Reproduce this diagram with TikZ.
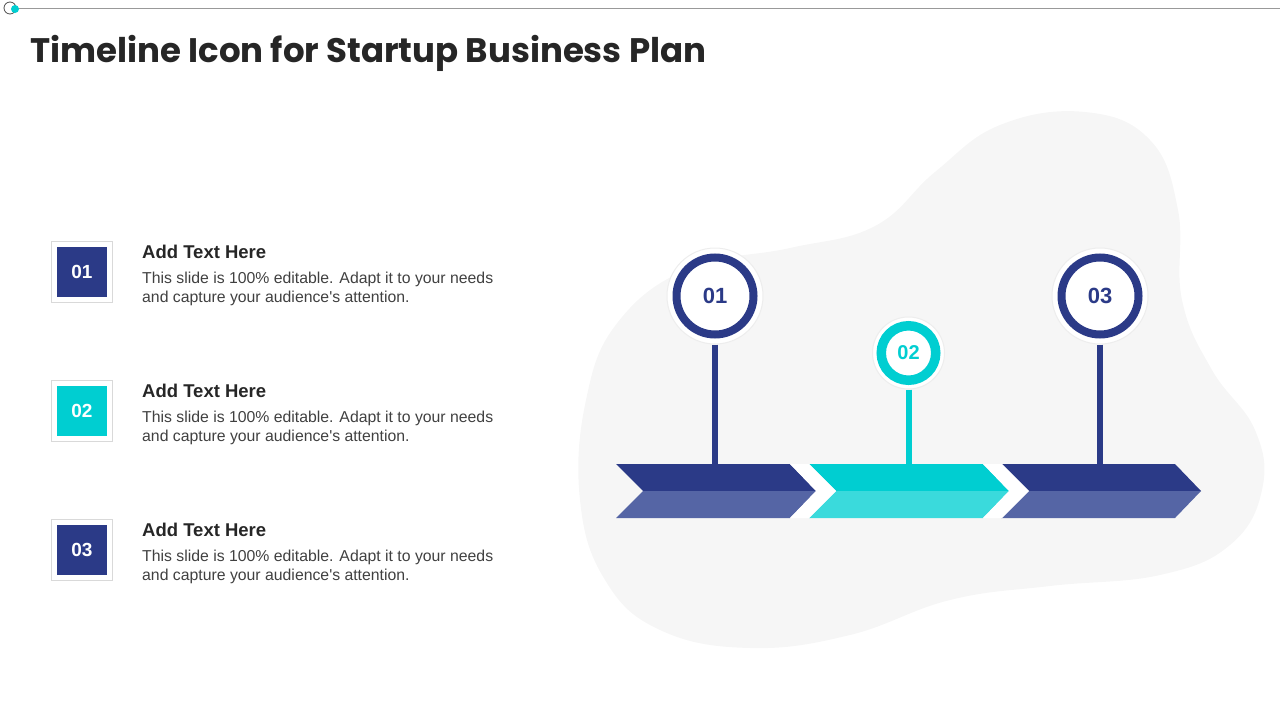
\documentclass[tikz,border=0pt]{standalone}
\usepackage{fontspec}
\setmainfont{Liberation Sans}
\newfontfamily\titlefont{Poppins}
\usetikzlibrary{positioning}
\definecolor{navy}{RGB}{43,58,135}
\definecolor{navylt}{RGB}{85,101,165}
\definecolor{teal}{RGB}{0,206,209}
\definecolor{teallt}{RGB}{58,218,220}
\definecolor{blobgray}{RGB}{246,246,246}
\definecolor{bodygray}{RGB}{64,64,64}

\begin{document}
\begin{tikzpicture}[x=1pt, y=-1pt,
  numbox/.style={draw=black!15, line width=0.8pt, minimum size=61pt, inner sep=0pt},
  numfill/.style={minimum size=50pt, inner sep=0pt, text=white,
                  font=\fontsize{19}{19}\selectfont\bfseries},
  headtxt/.style={anchor=base west, inner sep=0pt, text=black!85,
                  font=\fontsize{18.5}{18.5}\selectfont\bfseries},
  bodytxt/.style={anchor=base west, inner sep=0pt, align=left, text=bodygray,
                  font=\fontsize{15.8}{19}\selectfont},
  halo/.style={circle, fill=white, draw=black!7, line width=1pt, inner sep=0pt},
  ring/.style={circle, fill=white, inner sep=0pt},
  stem/.style={line width=6pt}]

\useasboundingbox (0,0) rectangle (1280,720);

% top rule
\draw[black!40, line width=1pt] (17,8) -- (1280,8);
\draw[black!70, line width=0.8pt] (10,8) circle (6);
\fill[teal] (15,9) circle (4);

\node[anchor=base west, inner sep=0pt, text=black!85,
      font=\titlefont\fontsize{34}{34}\selectfont\bfseries] (title) at (30,62)
  {Timeline Icon for Startup Business Plan};

% background blob
\fill[blobgray] plot[smooth cycle, tension=0.7] coordinates {
  (1085,112) (1150,140) (1178,210) (1182,300) (1212,370) (1255,430)
  (1262,490) (1230,545) (1160,575) (1050,586) (950,600) (850,635)
  (750,648) (660,630) (605,580) (580,500) (586,400) (618,322)
  (690,268) (790,248) (875,226) (935,172) (1000,125)};

% left list
\foreach \n/\dy/\col in {01/0/navy, 02/139/teal, 03/278/navy} {
  \node[numbox] (box\n) at (82,271.5+\dy) {};
  \node[numfill, fill=\col] (num\n) at (box\n.center) {\n};
  \node[headtxt] (head\n) at (142,258+\dy) {Add Text Here};
  \node[bodytxt] (body\n) at (142,302+\dy)
    {This slide is 100\% editable. Adapt it to your needs\\and capture your audience\textquotesingle s attention.};
}

% chevrons
\foreach \x/\top/\bot in {616/navy/navylt, 809/teal/teallt, 1001/navy/navylt} {
  \fill[\top] (\x,464) -- (\x+174,464) -- (\x+200,491) -- (\x+27,491) -- cycle;
  \fill[\bot] (\x+27,491) -- (\x+200,491) -- (\x+174,518) -- (\x,518) -- cycle;
}
\foreach \x in {790,983} {
  \fill[white] (\x,464) -- (\x+19,464) -- (\x+46,491) -- (\x+19,518) -- (\x,518) -- (\x+26,491) -- cycle;
}

% markers
\coordinate (base01) at (715,464);
\coordinate (base02) at (908.5,464);
\coordinate (base03) at (1100,464);

\node[halo, minimum size=96pt] (halo01) at (715,296) {};
\node[ring, draw=navy, line width=8pt, minimum size=77pt,
      font=\fontsize{22}{22}\selectfont\bfseries, text=navy] (c01) at (halo01) {01};
\node[halo, minimum size=72pt] (halo02) at (908.5,353) {};
\node[ring, draw=teal, line width=9.5pt, minimum size=54.5pt,
      font=\fontsize{20}{20}\selectfont\bfseries, text=teal] (c02) at (halo02) {02};
\node[halo, minimum size=96pt] (halo03) at (1100,296) {};
\node[ring, draw=navy, line width=8pt, minimum size=77pt,
      font=\fontsize{22}{22}\selectfont\bfseries, text=navy] (c03) at (halo03) {03};

\draw[stem, navy] (halo01.south) -- (base01);
\draw[stem, teal] (halo02.south) -- (base02);
\draw[stem, navy] (halo03.south) -- (base03);
\end{tikzpicture}
\end{document}
